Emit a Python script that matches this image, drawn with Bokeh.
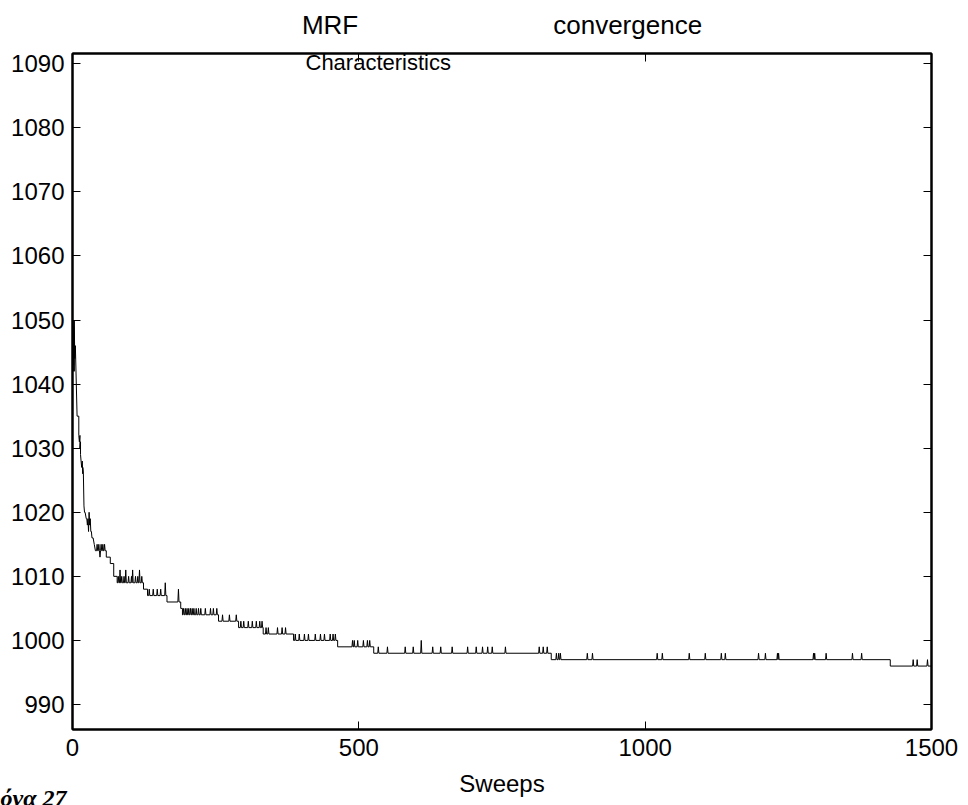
from bokeh.plotting import figure
from bokeh.models import Label, LinearAxis, FixedTicker, Title
from bokeh.embed import file_html
from bokeh.resources import INLINE

# ---- data ----
early_sweeps = [0, 1, 1, 2, 2, 3, 3, 4, 5, 8, 11, 11, 12, 13, 13, 14, 14, 15, 16, 17, 18, 18, 19,
                20, 21, 22, 24, 25, 26, 27, 28, 29, 30, 31, 32, 33, 34, 36, 38, 40]
early_energy = [1046, 1042, 1050, 1043, 1049, 1042, 1050, 1044, 1046, 1035, 1035, 1032, 1031,
                1032, 1030, 1031, 1029, 1028, 1027, 1028, 1026, 1027, 1026, 1021, 1020, 1020, 1019, 1019,
                1018, 1019, 1017, 1020, 1018, 1019, 1017, 1017, 1016, 1016, 1015, 1014]

level_start = [40, 59, 66, 72, 78, 124, 131, 165, 189, 192, 255, 290, 333, 386, 463, 526, 836, 1428]
level_value = [1014, 1013, 1012, 1010, 1009, 1008, 1007, 1006, 1005, 1004, 1003, 1002, 1001, 1000, 999,
               998, 997, 996]

spike_sweeps = [43, 46, 48, 50, 53, 56,
                80, 83, 86, 90, 93, 98, 103, 105, 110, 114, 117, 121,
                134, 141, 148, 154, 162,
                185,
                194, 197, 200, 203, 206, 209, 212, 216, 220, 224, 232, 241, 246, 252,
                262, 274, 286,
                294, 299, 307, 314, 321, 327, 331,
                338, 342, 358, 366, 372,
                389, 396, 405, 412, 424, 433, 440, 450, 455, 459,
                489, 492, 498, 508, 515, 519,
                534, 550, 581, 595, 609, 629, 643, 663, 690, 705, 716, 725, 733, 756, 815, 822, 829,
                845, 849, 852, 899, 908, 1021, 1030, 1077, 1105, 1133, 1140, 1198, 1210, 1231, 1233,
                1294, 1296, 1316, 1362, 1378,
                1468, 1475, 1493]
spike_peaks = [1015, 1015, 1013, 1015, 1015, 1015,
               1010, 1011, 1010, 1010, 1011, 1010, 1010, 1011, 1010, 1010, 1011, 1010,
               1008, 1008, 1008, 1008, 1009,
               1008,
               1005, 1005, 1005, 1005, 1005, 1005, 1005, 1005, 1005, 1005, 1005, 1005, 1005, 1005,
               1004, 1004, 1004,
               1003, 1003, 1003, 1003, 1003, 1003, 1003,
               1002, 1002, 1002, 1002, 1002,
               1001, 1001, 1001, 1001, 1001, 1001, 1001, 1001, 1001, 1001,
               1000, 1000, 1000, 1000, 1000, 1000,
               999, 999, 999, 999, 1000, 999, 999, 999, 999, 999, 999, 999, 999, 999, 999, 999, 999,
               998, 998, 998, 998, 998, 998, 998, 998, 998, 998, 998, 998, 998, 998, 998,
               998, 998, 998, 998, 998,
               997, 997, 997]

x_ticks = [0, 500, 1000, 1500]
y_ticks = [990, 1000, 1010, 1020, 1030, 1040, 1050, 1060, 1070, 1080, 1090]
x_end = 1500

# ---- build the trace from the read values ----
xs = list(early_sweeps)
ys = list(early_energy)
for i, (s0, lev) in enumerate(zip(level_start, level_value)):
    s1 = level_start[i + 1] if i + 1 < len(level_start) else x_end
    xs.append(s0)
    ys.append(lev)
    for s, pk in zip(spike_sweeps, spike_peaks):
        if s0 <= s < s1:
            xs += [s - 1, s, s + 1]
            ys += [lev, pk, lev]
    xs.append(s1)
    ys.append(lev)

FONT = "Liberation Sans"
W, H = 968, 805
NBSP = "\u00a0"

p = figure(width=W, height=H, x_range=(0, 1500), y_range=(986.1, 1091.6),
           output_backend="svg", toolbar_location=None,
           min_border_left=72, min_border_right=37, min_border_top=53, min_border_bottom=76)
p.line(xs, ys, line_color="black", line_width=1)

p.grid.visible = False
p.outline_line_color = "black"
p.outline_line_width = 2
p.background_fill_color = "white"
p.border_fill_color = "white"

def style_axis(ax, ticks, labels=True):
    ax.ticker = FixedTicker(ticks=ticks)
    ax.minor_tick_line_color = None
    ax.major_tick_in = 8
    ax.major_tick_out = 0
    ax.major_tick_line_color = "black"
    ax.major_tick_line_width = 1
    ax.axis_line_color = "black"
    ax.axis_line_width = 2
    if labels:
        ax.major_label_text_font = FONT
        ax.major_label_text_font_size = "24px"
        ax.major_label_text_color = "black"
    else:
        ax.major_label_text_font_size = "0px"
        ax.major_label_text_alpha = 0
        ax.major_label_standoff = 0

style_axis(p.xaxis[0], x_ticks)
style_axis(p.yaxis[0], y_ticks)
p.xaxis[0].major_label_standoff = 9
p.yaxis[0].major_label_standoff = 8
p.xaxis[0].axis_label = "Sweeps"
p.xaxis[0].axis_label_text_font = FONT
p.xaxis[0].axis_label_text_font_size = "24px"
p.xaxis[0].axis_label_text_font_style = "normal"
p.xaxis[0].axis_label_text_color = "black"
p.xaxis[0].axis_label_standoff = 11

top_ax = LinearAxis()
right_ax = LinearAxis()
style_axis(top_ax, x_ticks, labels=False)
style_axis(right_ax, y_ticks, labels=False)
top_ax.axis_label = "MRF" + NBSP * 27 + "convergence"
top_ax.axis_label_text_font = FONT
top_ax.axis_label_text_font_size = "26px"
top_ax.axis_label_text_font_style = "normal"
top_ax.axis_label_text_color = "black"
top_ax.axis_label_standoff = 14
p.add_layout(top_ax, "above")
p.add_layout(right_ax, "right")

fig_note = Title(text="όνα 27", align="left", offset=-72, standoff=-30, vertical_align="top",
                 text_font="Liberation Serif", text_font_size="24px",
                 text_font_style="bold italic", text_color="black")
p.add_layout(fig_note, "below")

def px_x(px):
    return (px - 72) * 1500 / 859.0

def px_y(py):
    return 1090 - (py - 63) / 6.41

p.add_layout(Label(x=px_x(305), y=px_y(62), text="Characteristics", text_font=FONT,
                   text_font_size="22px", text_color="black", text_baseline="alphabetic"))

open("out.html", "w").write(file_html(p, INLINE))
